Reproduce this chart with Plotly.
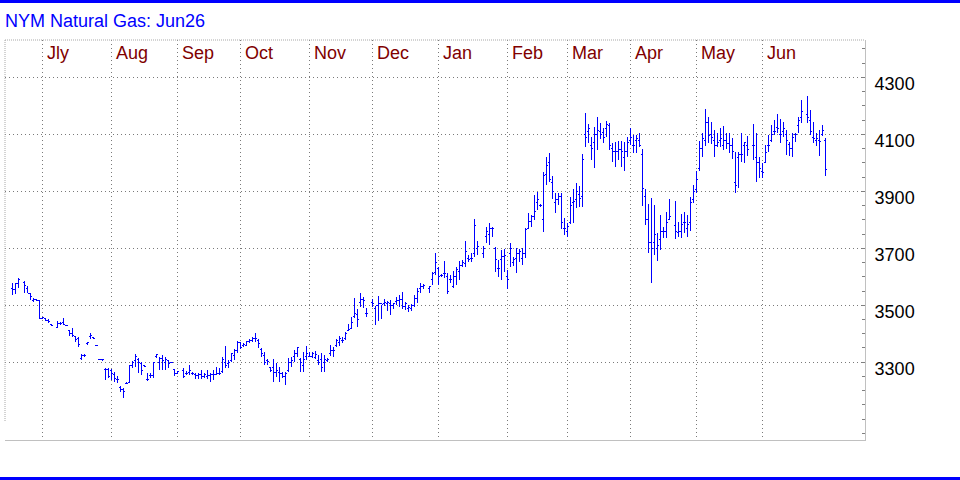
import plotly.graph_objects as go

title_text = "NYM Natural Gas: Jun26"
month_labels = ["Jly", "Aug", "Sep", "Oct", "Nov", "Dec", "Jan", "Feb", "Mar", "Apr", "May", "Jun"]
month_pos = [10.13, 33.0, 55.13, 76.13, 99.13, 120.13, 142.13, 165.13, 185.0, 206.0, 228.0, 250.0]
price_ticks = [3300, 3500, 3700, 3900, 4100, 4300]

high = [
    3577, 3577, 3595, None, 3584, 3568, 3542, 3524, 3521, 3519,
    3460, 3454, 3451, 3434, None, 3443, 3440, 3454, 3431, 3413,
    3419, 3392, 3390, 3329, 3328, 3372, 3402, 3388, 3361, 3312,
    3309, 3279, 3279, 3275, 3267, 3250, 3217, 3209, 3229, 3291,
    3305, 3328, 3314, 3302, 3291, 3261, 3261, 3302, 3328, 3320,
    3326, 3320, 3308, 3302, 3275, 3270, None, 3279, 3269, 3291,
    3267, 3261, 3261, 3273, 3261, 3273, 3261, 3273, 3285, 3279,
    3320, 3357, 3308, 3334, 3345, 3376, 3369, 3366, 3376, 3380,
    3390, 3401, 3380, 3349, 3337, 3310, 3284, 3310, 3296, 3284,
    3267, 3267, 3314, 3320, 3343, 3355, 3314, 3337, 3357, 3337,
    3337, 3340, 3325, 3331, 3325, 3314, 3360, 3355, 3380, 3392,
    3387, 3407, 3434, 3460, 3524, 3486, 3542, 3528, 3489, None,
    3521, 3497, 3533, 3501, 3521, 3516, 3518, 3509, 3530, 3536,
    3548, 3513, 3501, 3504, 3536, 3560, 3577, 3575, None, 3568,
    3618, 3685, 3636, 3610, 3655, 3612, 3606, 3621, 3633, 3655,
    3659, 3725, 3676, 3682, 3801, 3725, None, 3708, 3776, 3790,
    3773, 3706, 3659, 3694, 3696, 3624, 3717, 3670, 3700, 3696,
    3700, 3770, 3823, 3817, 3887, 3899, 3855, 3969, 4019, 4033,
    3954, 3893, 3895, 3893, 3805, 3790, 3881, 3907, 3928, 3920,
    4031, 4176, 4136, 4092, 4127, 4160, 4141, 4121, 4148, 4138,
    4068, 4074, 4078, 4078, 4074, 4092, 4121, 4097, 4097, 4103,
    4047, 3907, 3855, 3875, 3852, 3752, 3817, 3776, 3828, 3872,
    None, 3866, 3793, 3820, 3828, 3817, 3881, 3922, 3972, 4078,
    4103, 4188, 4162, 4144, 4115, 4103, 4121, 4129, 4106, 4106,
    4086, 4039, 4039, 4106, 4074, 4094, None, 4136, 4103, 4019,
    3998, 4062, 4097, 4132, 4150, 4173, 4152, 4144, 4115, 4074,
    4103, 4106, 4159, 4220, None, 4234, 4187, 4144, 4106, 4115,
    4132, 4086,
]

low = [
    3536, 3540, 3560, None, 3542, 3542, 3519, 3510, 3515, 3451,
    3452, 3443, 3439, 3428, None, 3419, 3432, 3431, 3427, 3392,
    3390, 3372, 3355, 3308, 3318, 3362, 3381, 3382, 3358, 3308,
    3306, 3238, 3244, 3238, 3232, 3226, 3197, 3174, 3222, 3229,
    3279, 3285, 3261, 3255, 3284, 3235, 3244, 3244, 3314, 3273,
    3271, 3273, 3279, 3296, 3250, 3261, None, 3244, 3255, 3255,
    3255, 3241, 3241, 3240, 3244, 3240, 3232, 3238, 3255, 3255,
    3261, 3279, 3279, 3302, 3308, 3331, 3345, 3355, 3357, 3366,
    3372, 3372, 3349, 3320, 3290, 3290, 3267, 3232, 3249, 3232,
    3243, 3220, 3267, 3284, 3302, 3320, 3267, 3267, 3308, 3317,
    3314, 3310, 3290, 3267, 3267, 3302, 3322, 3320, 3355, 3357,
    3366, 3378, 3410, 3419, 3454, 3423, 3495, 3489, 3458, None,
    3493, 3431, 3446, 3451, 3497, 3481, 3466, 3486, 3501, 3495,
    3486, 3483, 3478, 3481, 3495, 3507, 3542, 3556, None, 3542,
    3571, 3606, 3571, 3600, 3595, 3538, 3579, 3559, 3571, 3590,
    3633, 3633, 3653, 3653, 3670, 3676, None, 3665, 3717, 3711,
    3738, 3618, 3600, 3588, 3618, 3556, 3635, 3638, 3612, 3653,
    3641, 3665, 3766, 3776, 3800, 3834, 3846, 3758, 3922, 3934,
    3872, 3825, 3852, 3766, 3746, 3738, 3785, 3787, 3840, 3846,
    3846, 4056, 4070, 4010, 3980, 4045, 4082, 4070, 4092, 4045,
    4004, 3986, 4010, 3986, 3972, 4021, 4062, 4033, 4033, 4056,
    3848, 3782, 3682, 3577, 3676, 3656, 3694, 3735, 3735, 3799,
    None, 3731, 3741, 3735, 3752, 3741, 3760, 3858, 3895, 3972,
    4021, 4060, 4068, 4066, 4021, 4056, 4056, 4045, 4050, 4035,
    4015, 3893, 3910, 4004, 4000, 4024, None, 4010, 3934, 3945,
    3945, 3998, 4039, 4074, 4097, 4103, 4071, 4092, 4027, 4024,
    4021, 4074, 4103, 4138, None, 4138, 4097, 4068, 4059, 4024,
    4094, 3953,
]

open_ = [
    3560, 3556, 3575, None, 3580, 3560, 3542, 3515, 3519, 3517,
    3455, 3452, 3448, 3432, None, 3422, 3436, 3438, 3430, 3410,
    3400, 3390, 3385, 3312, 3324, 3364, 3390, 3386, 3360, 3310,
    3308, 3275, 3275, 3270, 3258, 3240, 3210, 3205, 3224, 3230,
    3290, 3305, 3308, 3295, 3288, 3240, 3255, 3255, 3320, 3300,
    3312, 3300, 3305, 3298, 3275, 3262, None, 3270, 3260, 3265,
    3260, 3258, 3254, 3256, 3250, 3250, 3255, 3256, 3258, 3260,
    3268, 3300, 3295, 3305, 3325, 3340, 3368, 3360, 3360, 3372,
    3378, 3385, 3375, 3345, 3325, 3305, 3280, 3280, 3265, 3265,
    3262, 3250, 3270, 3300, 3320, 3330, 3310, 3290, 3320, 3320,
    3320, 3318, 3305, 3310, 3300, 3305, 3330, 3340, 3360, 3370,
    3375, 3385, 3412, 3420, 3460, 3468, 3510, 3520, 3470, None,
    3510, 3490, 3500, 3505, 3505, 3505, 3505, 3498, 3512, 3515,
    3520, 3495, 3490, 3490, 3500, 3525, 3560, 3565, None, 3560,
    3590, 3615, 3630, 3605, 3610, 3600, 3590, 3565, 3600, 3620,
    3640, 3645, 3665, 3665, 3680, 3700, None, 3680, 3740, 3750,
    3770, 3700, 3630, 3660, 3670, 3600, 3680, 3650, 3665, 3680,
    3665, 3680, 3770, 3795, 3810, 3860, 3850, 3800, 3960, 4000,
    3930, 3860, 3870, 3880, 3770, 3760, 3790, 3860, 3870, 3890,
    3880, 4100, 4110, 4060, 4070, 4100, 4110, 4105, 4120, 4130,
    4050, 4040, 4040, 4045, 4020, 4040, 4080, 4060, 4080, 4080,
    4030, 3880, 3800, 3720, 3720, 3700, 3730, 3760, 3760, 3800,
    None, 3780, 3755, 3760, 3790, 3770, 3790, 3870, 3905, 3980,
    4050, 4080, 4140, 4100, 4080, 4060, 4080, 4060, 4080, 4068,
    4060, 3930, 4020, 4030, 4060, 4060, None, 4060, 4020, 4000,
    3970, 4000, 4060, 4080, 4110, 4125, 4100, 4110, 4100, 4065,
    4050, 4100, 4130, 4160, None, 4170, 4150, 4090, 4080, 4080,
    4100, 4080,
]

close = [
    3556, 3577, 3592, None, 3568, 3542, 3530, 3519, 3517, 3455,
    3458, 3448, 3442, 3430, None, 3436, 3436, 3432, 3430, 3400,
    3394, 3380, 3362, 3322, 3322, 3370, 3395, 3385, 3360, 3310,
    3308, 3275, 3250, 3262, 3242, 3240, 3205, 3196, 3226, 3290,
    3300, 3320, 3300, 3270, 3286, 3240, 3252, 3300, 3326, 3312,
    3305, 3310, 3296, 3298, 3262, 3266, None, 3250, 3262, 3270,
    3262, 3254, 3256, 3250, 3256, 3255, 3256, 3256, 3260, 3262,
    3310, 3290, 3300, 3330, 3340, 3370, 3350, 3362, 3372, 3375,
    3385, 3385, 3365, 3330, 3300, 3302, 3270, 3265, 3270, 3260,
    3250, 3262, 3300, 3305, 3330, 3350, 3298, 3310, 3330, 3320,
    3330, 3328, 3300, 3280, 3310, 3310, 3340, 3340, 3375, 3385,
    3378, 3400, 3415, 3440, 3470, 3450, 3520, 3515, 3470, None,
    3505, 3498, 3505, 3502, 3510, 3510, 3498, 3505, 3515, 3520,
    3495, 3505, 3492, 3500, 3525, 3550, 3565, 3568, None, 3565,
    3610, 3650, 3600, 3603, 3610, 3548, 3590, 3600, 3625, 3640,
    3650, 3690, 3660, 3665, 3780, 3705, None, 3700, 3760, 3770,
    3768, 3660, 3630, 3670, 3675, 3590, 3700, 3660, 3680, 3690,
    3680, 3765, 3795, 3810, 3830, 3870, 3850, 3955, 3990, 3940,
    3900, 3870, 3880, 3790, 3770, 3775, 3850, 3865, 3900, 3875,
    4010, 4090, 4120, 4050, 4100, 4115, 4100, 4090, 4135, 4060,
    4040, 4040, 4045, 4040, 4040, 4070, 4090, 4060, 4085, 4060,
    3910, 3800, 3720, 3700, 3750, 3710, 3760, 3760, 3790, 3810,
    None, 3760, 3760, 3785, 3790, 3785, 3860, 3900, 3940, 4050,
    4085, 4140, 4095, 4090, 4060, 4070, 4085, 4080, 4068, 4060,
    4040, 3920, 4030, 4030, 4070, 4045, None, 4060, 4000, 3980,
    3965, 4035, 4060, 4100, 4110, 4120, 4100, 4120, 4080, 4050,
    4090, 4100, 4150, 4180, None, 4160, 4110, 4085, 4085, 4075,
    4115, 3975,
]

assert len(high) == len(low) == len(open_) == len(close)
day_index = list(range(len(high)))

W, H = 960, 480
PL, PR, PT, PB = 5, 865, 40, 440
BLUE = "#0000ff"

fig = go.Figure(go.Ohlc(
    x=day_index, open=open_, high=high, low=low, close=close,
    increasing=dict(line=dict(color=BLUE, width=1)),
    decreasing=dict(line=dict(color=BLUE, width=1)),
    tickwidth=0.5, hoverinfo="skip",
))

fig.update_layout(
    width=W, height=H,
    margin=dict(l=0, r=0, t=0, b=0),
    paper_bgcolor="white", plot_bgcolor="white",
    showlegend=False,
    font=dict(family="Liberation Sans, Arial, sans-serif"),
    xaxis=dict(
        domain=[PL / W, PR / W], range=[-2.5, 284.1667],
        tickmode="array", tickvals=month_pos, showticklabels=False, ticks="",
        showgrid=True, gridcolor="#7a7a7a", griddash="1px,3px", gridwidth=1,
        zeroline=False, showline=True, linecolor="#c0c0c0", linewidth=1,
        rangeslider=dict(visible=False), fixedrange=True,
    ),
    yaxis=dict(
        domain=[1 - PB / H, 1 - PT / H], range=[3027, 4431], side="right",
        tickmode="array", tickvals=price_ticks, ticktext=[str(v) for v in price_ticks],
        showgrid=True, gridcolor="#7a7a7a", griddash="1px,3px", gridwidth=1,
        zeroline=False, showline=True, linecolor="#c0c0c0", linewidth=1,
        ticks="inside", ticklen=3, tickcolor="#808080",
        minor=dict(tick0=3000, dtick=50, ticks="inside", ticklen=3, tickcolor="#808080", showgrid=False),
        tickfont=dict(family="Liberation Sans, Arial, sans-serif", size=18, color="black"),
        ticklabelshift=6, ticklabelstandoff=5, fixedrange=True,
    ),
)

shapes = [
    dict(type="rect", xref="paper", yref="paper", x0=0, x1=1, y0=1 - 3 / H, y1=1,
         fillcolor=BLUE, line=dict(width=0)),
    dict(type="rect", xref="paper", yref="paper", x0=0, x1=1, y0=0, y1=3 / H,
         fillcolor=BLUE, line=dict(width=0)),
    dict(type="line", xref="paper", yref="paper", x0=PL / W, x1=PR / W, y0=1 - PT / H, y1=1 - PT / H,
         line=dict(color="#a8a8a8", width=1, dash="1px,1px")),
    dict(type="line", xref="paper", yref="paper", x0=PL / W, x1=PL / W, y0=1 - PT / H, y1=1 - 421 / H,
         line=dict(color="#a8a8a8", width=1, dash="1px,1px")),
]
fig.update_layout(shapes=shapes)

annotations = [
    dict(text=title_text, xref="paper", yref="paper", x=3 / W, y=1 - 20.5 / H,
         xanchor="left", yanchor="middle", showarrow=False,
         font=dict(family="Liberation Sans, Arial, sans-serif", size=18, color=BLUE)),
]
for lab, pos in zip(month_labels, month_pos):
    annotations.append(dict(
        text=lab, xref="x", yref="paper", x=pos, y=1 - 53 / H, xshift=2,
        xanchor="left", yanchor="middle", showarrow=False,
        font=dict(family="Liberation Sans, Arial, sans-serif", size=18, color="#800000"),
    ))
fig.update_layout(annotations=annotations)

post = """
document.body.style.margin='0';
document.body.style.overflow='hidden';
var gd = document.getElementById('{plot_id}');
function crisp(){
  gd.querySelectorAll('.ohlclayer path').forEach(function(p){ p.style.shapeRendering = 'crispEdges'; });
}
crisp();
setTimeout(crisp, 0);
if (gd.on) { gd.on('plotly_afterplot', crisp); }
"""

fig.write_html("out.html", config={"displayModeBar": False, "staticPlot": True}, post_script=post)
